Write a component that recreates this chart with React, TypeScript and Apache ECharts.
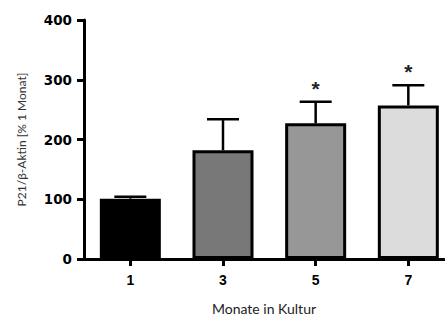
import React, { useEffect, useRef } from "react";
import * as echarts from "echarts";

const months = [1, 3, 5, 7];
const tickLabels = ["1", "3", "5", "7"];
const means = [101, 182, 227, 257];
const errors = [3, 52, 36, 34];
const significance = ["", "", "*", "*"];
const barColors = ["#000000", "#787878", "#979797", "#dcdcdc"];
const yTicks = [0, 100, 200, 300, 400];

export default function App() {
  const ref = useRef<HTMLDivElement>(null);
  useEffect(() => {
    if (!ref.current) return;
    const chart = echarts.init(ref.current, null, { renderer: "svg" });
    const barData = months.map((m, i) => ({
      value: [m, means[i]],
      itemStyle: { color: barColors[i] },
    }));
    const errData = months.map((m, i) => [m, means[i], errors[i], i]);
    chart.setOption({
      animation: false,
      grid: { left: 84, right: 1, top: 20, bottom: 55, containLabel: false },
      xAxis: {
        type: "value",
        min: 0,
        max: 7.77,
        name: "Monate in Kultur",
        nameLocation: "middle",
        nameGap: 42,
        nameTextStyle: { fontFamily: "Lato", fontSize: 14, color: "#222" },
        splitLine: { show: false },
        axisLine: { show: true, onZero: true, lineStyle: { color: "#000", width: 3 } },
        axisTick: {
          show: true,
          customValues: months,
          length: 7,
          lineStyle: { color: "#000", width: 3 },
        },
        axisLabel: {
          customValues: months,
          formatter: (v: number) => tickLabels[months.indexOf(v)] ?? "",
          margin: 14,
          fontFamily: "Liberation Sans",
          fontWeight: "bold",
          fontSize: 14,
          color: "#000",
        },
      },
      yAxis: {
        type: "value",
        min: 0,
        max: 400,
        interval: 100,
        name: "P21/β-Aktin [% 1 Monat]",
        nameLocation: "middle",
        nameGap: 57,
        nameTextStyle: { fontFamily: "Lato", fontSize: 12, color: "#333" },
        splitLine: { show: false },
        axisLine: { show: true, lineStyle: { color: "#000", width: 3 } },
        axisTick: { show: true, length: 7, lineStyle: { color: "#000", width: 3 } },
        axisLabel: {
          margin: 12,
          fontFamily: "DejaVu Sans",
          fontWeight: "bold",
          fontSize: 13.5,
          color: "#000",
          formatter: (v: number) => (yTicks.includes(v) ? String(v) : ""),
        },
      },
      series: [
        {
          type: "custom",
          z: 1,
          data: errData,
          renderItem: (params: any, api: any) => {
            const x = api.value(0);
            const m = api.value(1);
            const e = api.value(2);
            const idx = api.value(3);
            const p0 = api.coord([x, m]);
            const p1 = api.coord([x, m + e]);
            const style = { stroke: "#000", lineWidth: 2.5 };
            const children: any[] = [
              { type: "line", shape: { x1: p0[0], y1: p0[1], x2: p1[0], y2: p1[1] }, style },
              { type: "line", shape: { x1: p1[0] - 16, y1: p1[1], x2: p1[0] + 16, y2: p1[1] }, style },
            ];
            const sig = significance[idx];
            if (sig) {
              children.push({
                type: "text",
                x: p1[0],
                y: p1[1] - 24,
                style: {
                  text: sig,
                  fontFamily: "Liberation Sans",
                  fontWeight: "bold",
                  fontSize: 21,
                  fill: "#222",
                  align: "center",
                  verticalAlign: "top",
                },
              });
            }
            return { type: "group", children };
          },
        },
        {
          type: "bar",
          z: 2,
          barWidth: 61,
          data: barData,
          itemStyle: { borderColor: "#000", borderWidth: 3 },
        },
      ],
    });
    return () => chart.dispose();
  }, []);
  return (
    <div
      ref={ref}
      style={{ position: "absolute", left: 0, top: 0, width: 445, height: 320 }}
    />
  );
}
